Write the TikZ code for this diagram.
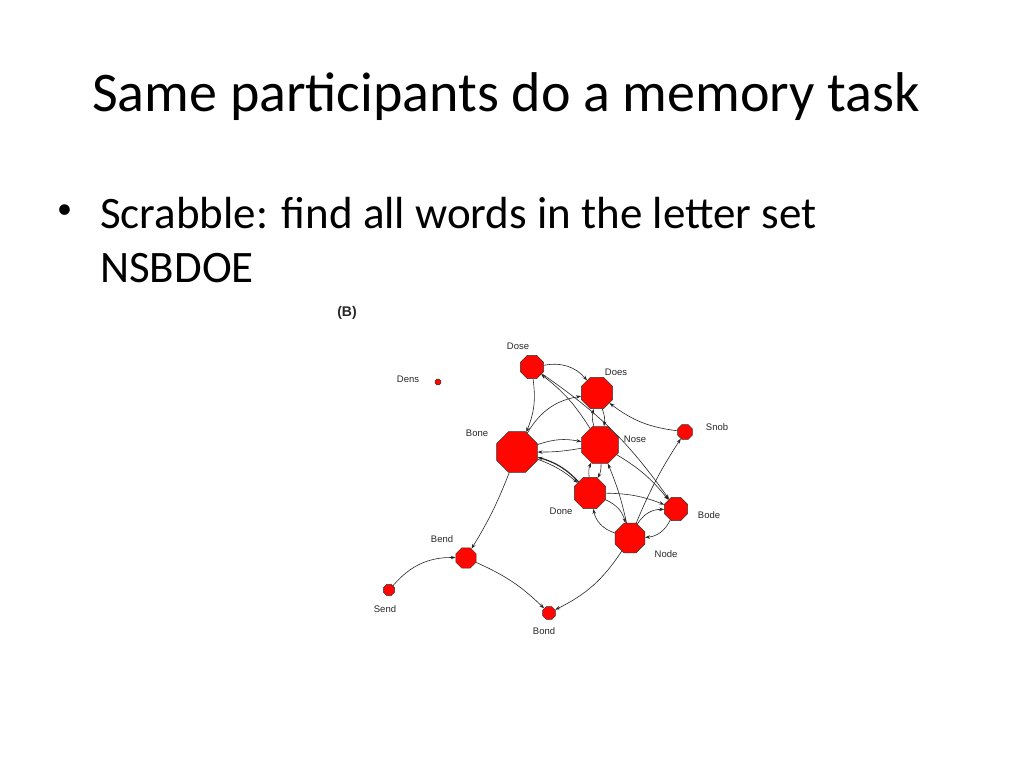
\documentclass[tikz,border=0pt]{standalone}
\usepackage{fontspec}
\setmainfont{Carlito}
\setsansfont{Liberation Sans}
\usetikzlibrary{shapes.geometric,arrows.meta}
\begin{document}
\begin{tikzpicture}[x=1pt,y=-1pt,
  oct/.style={regular polygon,regular polygon sides=8,fill=red!95!orange,draw=black!80,line width=0.5pt,inner sep=0pt,minimum size=#1},
  lab/.style={font=\sffamily\fontsize{9.5}{10}\selectfont,text=black!85},
  e/.style={-{Stealth[length=5pt,width=3.5pt]},black!85,line width=0.6pt}]
\useasboundingbox (0,0) rectangle (1024,768);
\node[anchor=west,font=\fontsize{56}{64}\selectfont,inner sep=0pt] (title) at (92,97) {Same participants do a memory task};
\node[anchor=west,font=\fontsize{30}{36}\selectfont,inner sep=0pt] (b1) at (57,212) {•};
\node[anchor=west,font=\fontsize{45}{52}\selectfont,inner sep=0pt] (t1) at (100,213) {Scrabble: find all words in the letter set};
\node[anchor=west,font=\fontsize{45}{52}\selectfont,inner sep=0pt] (t2) at (100,268) {NSBDOE};
\node[font=\sffamily\bfseries\fontsize{14}{16}\selectfont,text=black!85] (B) at (347,313) {(B)};
\node[oct=25pt] (Dose) at (532,367) {};
\node[oct=34pt] (Does) at (597,393) {};
\node[oct=6pt] (Dens) at (438,382) {};
\node[oct=44pt] (Bone) at (517,452) {};
\node[oct=40pt] (Nose) at (600,445) {};
\node[oct=16pt] (Snob) at (685,432) {};
\node[oct=34pt] (Done) at (590,493) {};
\node[oct=25pt] (Bode) at (676,509) {};
\node[oct=32pt] (Node) at (630,538) {};
\node[oct=22pt] (Bend) at (466,558) {};
\node[oct=12pt] (Send) at (389,590) {};
\node[oct=14pt] (Bond) at (549,613) {};
\node[lab] (lDose) at (518,346) {Dose};
\node[lab] (lDoes) at (616,372) {Does};
\node[lab] (lDens) at (408,379) {Dens};
\node[lab] (lBone) at (477,433) {Bone};
\node[lab] (lNose) at (635,439) {Nose};
\node[lab] (lSnob) at (717,427) {Snob};
\node[lab] (lDone) at (561,511) {Done};
\node[lab] (lBode) at (709,515) {Bode};
\node[lab] (lNode) at (666,554) {Node};
\node[lab] (lBend) at (442,539) {Bend};
\node[lab] (lSend) at (385,609) {Send};
\node[lab] (lBond) at (544,631) {Bond};
\draw[e] (Dose) to[bend left=30] (Does);
\draw[e] (Bone) to[bend left=25] (Does);
\draw[e] (Nose) to[bend right=10] (Dose);
\draw[e] (Dose) to[bend left=15] (Bone);
\draw[e] (Dose) to[bend left=10] (Bode);
\draw[e] (Does) to[bend left=15] (Nose);
\draw[e] (Nose) to[bend left=15] (Does);
\draw[e] (Snob) to[bend left=15] (Does);
\draw[e] (Bone) to[bend left=15] (Nose);
\draw[e] (Nose) to[bend left=5] (Bone);
\draw[e] (Bone) to[bend left=10] (Done);
\draw[e,line width=1.2pt] (Done) to[bend right=15] (Bone);
\draw[e] (Done) to[bend left=15] (Nose);
\draw[e] (Nose) to[bend left=15] (Done);
\draw[e] (Nose) to[bend left=10] (Bode);
\draw[e] (Done) to[bend left=10] (Bode);
\draw[e] (Done) to[bend left=25] (Node);
\draw[e] (Node) to[bend left=30] (Done);
\draw[e] (Node) to[bend left=5] (Snob);
\draw[e] (Node) to[bend left=30] (Bode);
\draw[e] (Bode) to[bend left=30] (Node);
\draw[e] (Node) to[bend right=5] (Nose);
\draw[e] (Node) to[bend left=15] (Bond);
\draw[e] (Bone) to[bend left=5] (Bend);
\draw[e] (Send) to[bend left=25] (Bend);
\draw[e] (Bend) to[bend left=10] (Bond);
\end{tikzpicture}
\end{document}
